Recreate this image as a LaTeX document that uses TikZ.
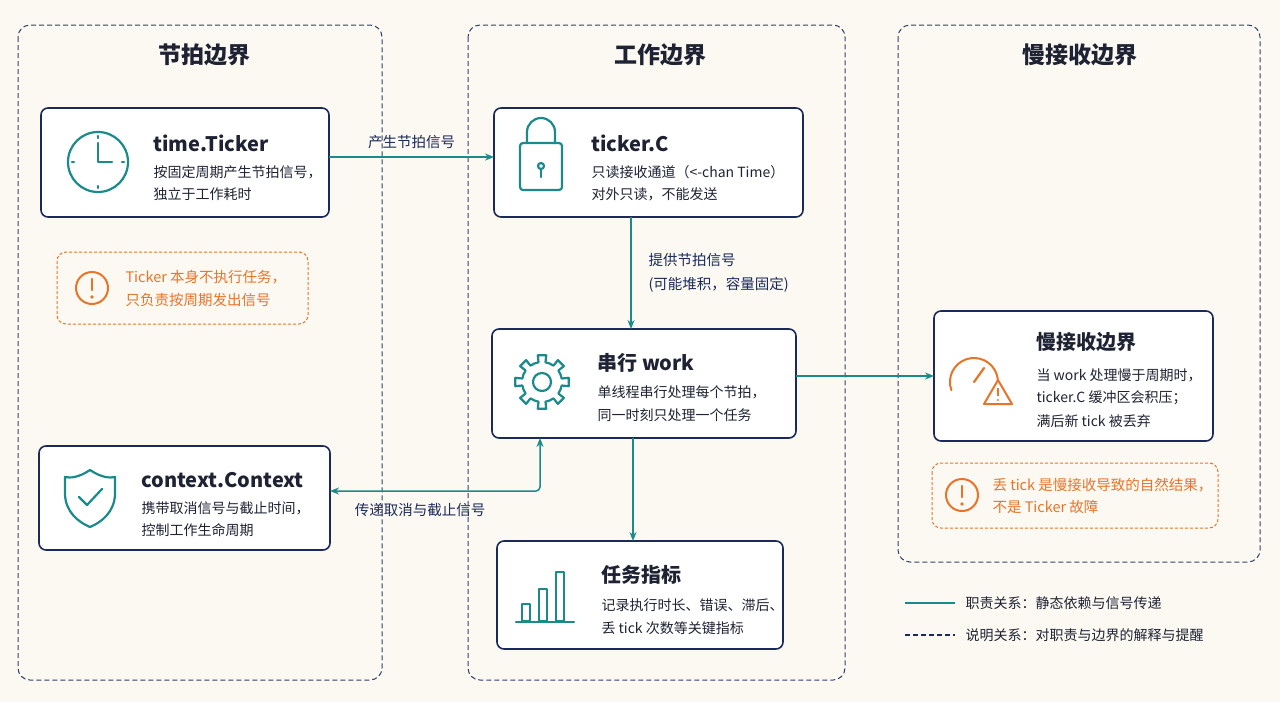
\documentclass[tikz,border=0pt]{standalone}
\usepackage{fontspec}
\setmainfont{Noto Sans CJK SC}
\usetikzlibrary{arrows.meta}
\definecolor{bg}{HTML}{FBF9F2}
\definecolor{navy}{HTML}{1B2A5A}
\definecolor{teal}{HTML}{1A8A8A}
\definecolor{org}{HTML}{E8742A}
\definecolor{txt}{HTML}{1E2233}
\begin{document}
\begin{tikzpicture}[x=1pt,y=-1pt,
 grp/.style={draw=navy!90,rounded corners=12pt,line width=1pt,dash pattern=on 5pt off 3pt},
 box/.style={draw=navy,fill=white,rounded corners=7pt,line width=1.6pt},
 note/.style={draw=org,fill=bg,rounded corners=9pt,line width=1pt,dash pattern=on 3pt off 2pt},
 gt/.style={font=\fontsize{23}{26}\selectfont\bfseries,text=txt},
 tt/.style={font=\fontsize{20}{24}\selectfont\bfseries,text=txt,anchor=west},
 ln/.style={font=\fontsize{14}{16}\selectfont,text=txt,anchor=west},
 on/.style={font=\fontsize{14.5}{16}\selectfont,text=org,anchor=west},
 lab/.style={font=\fontsize{14.5}{16}\selectfont,text=navy},
 arr/.style={draw=teal,line width=1.5pt,-{Stealth[length=9pt,width=7pt]}},
 ic/.style={draw=teal,line width=2.2pt,line cap=round,line join=round}]
\fill[bg] (0,0) rectangle (1280,702);
\useasboundingbox (0,0) rectangle (1280,702);
\draw[grp] (18,25) rectangle (382,680);
\draw[grp] (468,25) rectangle (845,680);
\draw[grp] (898,25) rectangle (1260,562);
\node[gt] (g1) at (204,55) {节拍边界};
\node[gt] (g2) at (660,55) {工作边界};
\node[gt] (g3) at (1080,55) {慢接收边界};
% boxes
\draw[box] (41,108) rectangle (329,217);
\coordinate (tkR) at (329,157);
\draw[ic] (98,162) circle (30); \draw[ic] (98,143)--(98,162)--(112,162);
\foreach \a in {0,90,180,270} \draw[ic] (98,162)++(\a:24) -- ++(\a:2);
\node[tt] (tk) at (150,143) {time.Ticker};
\node[ln] at (150,172) {按固定周期产生节拍信号，};
\node[ln] at (150,194) {独立于工作耗时};

\draw[box] (494,108) rectangle (803,217);
\coordinate (tcL) at (494,157); \coordinate (tcB) at (631,217);
\draw[ic] (527,143) -- (527,132) arc (180:360:14) -- (555,143);
\draw[ic,rounded corners=3pt] (520,143) rectangle (562,190);
\draw[ic] (541,166) circle (3); \draw[ic] (541,169)--(541,177);
\node[tt] (tc) at (588,143) {ticker.C};
\node[ln] at (588,172) {只读接收通道（<-chan Time）};
\node[ln] at (588,194) {对外只读，不能发送};

\draw[note] (57,252) rectangle (308,324);
\draw[org,line width=2pt] (92,288) circle (16);
\draw[org,line width=2.6pt,line cap=round] (92,279)--(92,290); \fill[org] (92,297) circle (1.8);
\node[on] at (122,277) {Ticker 本身不执行任务，};
\node[on] at (122,300) {只负责按周期发出信号};

\draw[box] (492,329) rectangle (796,438);
\coordinate (wT) at (631,329); \coordinate (wR) at (796,376); \coordinate (wB) at (633,438); \coordinate (wS) at (540,438);
\begin{scope}[shift={(542,382)}]
\draw[ic] (0,0) circle (9);
\draw[ic] \foreach \i in {0,...,7} {({\i*45-10}:20) -- ({\i*45-9}:27) -- ({\i*45+9}:27) -- ({\i*45+10}:20) arc ({\i*45+10}:{\i*45+35}:20)} ;
\end{scope}
\node[tt] (w) at (594,363) {串行 work};
\node[ln] at (594,392) {单线程串行处理每个节拍，};
\node[ln] at (594,415) {同一时刻只处理一个任务};

\draw[box] (39,446) rectangle (330,550);
\coordinate (cR) at (330,491);
\draw[ic] (90,470) .. controls (78,478) and (70,478) .. (65,477) -- (65,495) .. controls (66,512) and (78,522) .. (90,527) .. controls (102,522) and (114,512) .. (115,495) -- (115,477) .. controls (110,478) and (102,478) .. (90,470) -- cycle;
\draw[ic] (79,497)--(87,505)--(102,489);
\node[tt] (c) at (138,480) {context.Context};
\node[ln] at (138,508) {携带取消信号与截止时间，};
\node[ln] at (138,530) {控制工作生命周期};

\draw[box] (497,541) rectangle (783,649);
\coordinate (mT) at (633,541);
\draw[ic] (516,622)--(574,622);
\draw[ic] (522,621) rectangle (530,604); \draw[ic] (539,621) rectangle (547,589); \draw[ic] (556,621) rectangle (564,572);
\node[tt] (m) at (598,575) {任务指标};
\node[ln] at (598,605) {记录执行时长、错误、滞后、};
\node[ln] at (598,628) {丢 tick 次数等关键指标};

\draw[box] (934,311) rectangle (1213,441);
\coordinate (sL) at (934,376);
\draw[org,line width=2pt,line cap=round] (951.4,390.2) arc (160:380:24);
\draw[org,line width=2.2pt,line cap=round] (974,382)--(984,368);
\draw[org,line width=2pt,line join=round,fill=white] (984,404)--(998,380)--(1012,404)--cycle;
\draw[org,line width=2pt] (998,388)--(998,396); \fill[org] (998,400) circle (1.2);
\node[tt] (s) at (1033,342) {慢接收边界};
\node[ln] at (1033,375) {当 work 处理慢于周期时，};
\node[ln] at (1033,398) {ticker.C 缓冲区会积压；};
\node[ln] at (1033,421) {满后新 tick 被丢弃};

\draw[note] (932,463) rectangle (1218,528);
\draw[org,line width=2pt] (962,495) circle (16);
\draw[org,line width=2.6pt,line cap=round] (962,486)--(962,497); \fill[org] (962,504) circle (1.8);
\node[on] at (989,485) {丢 tick 是慢接收导致的自然结果，};
\node[on] at (989,507) {不是 Ticker 故障};

% arrows
\draw[arr] (tkR) -- node[lab,above=4pt] {产生节拍信号} (tcL);
\draw[arr] (tcB) -- (wT);
\node[lab,anchor=west] at (645,260) {提供节拍信号};
\node[lab,anchor=west] at (645,285) {(可能堆积，容量固定)};
\draw[arr] (wR) -- (sL);
\draw[arr] (wB) -- (mT);
\draw[draw=teal,line width=1.5pt,{Stealth[length=9pt,width=7pt]}-{Stealth[length=9pt,width=7pt]},rounded corners=4pt] (cR) -- (540,491) -- (wS);
\node[lab] at (420,510) {传递取消与截止信号};

% legend
\coordinate (l1a) at (905,603); \coordinate (l1b) at (955,603);
\draw[teal,line width=1.8pt] (l1a) -- (l1b);
\node[ln] at (962,603) {职责关系：静态依赖与信号传递};
\coordinate (l2a) at (905,635); \coordinate (l2b) at (955,635);
\draw[navy,line width=1.4pt,dash pattern=on 5pt off 3pt] (l2a) -- (l2b);
\node[ln] at (962,635) {说明关系：对职责与边界的解释与提醒};
\end{tikzpicture}
\end{document}
